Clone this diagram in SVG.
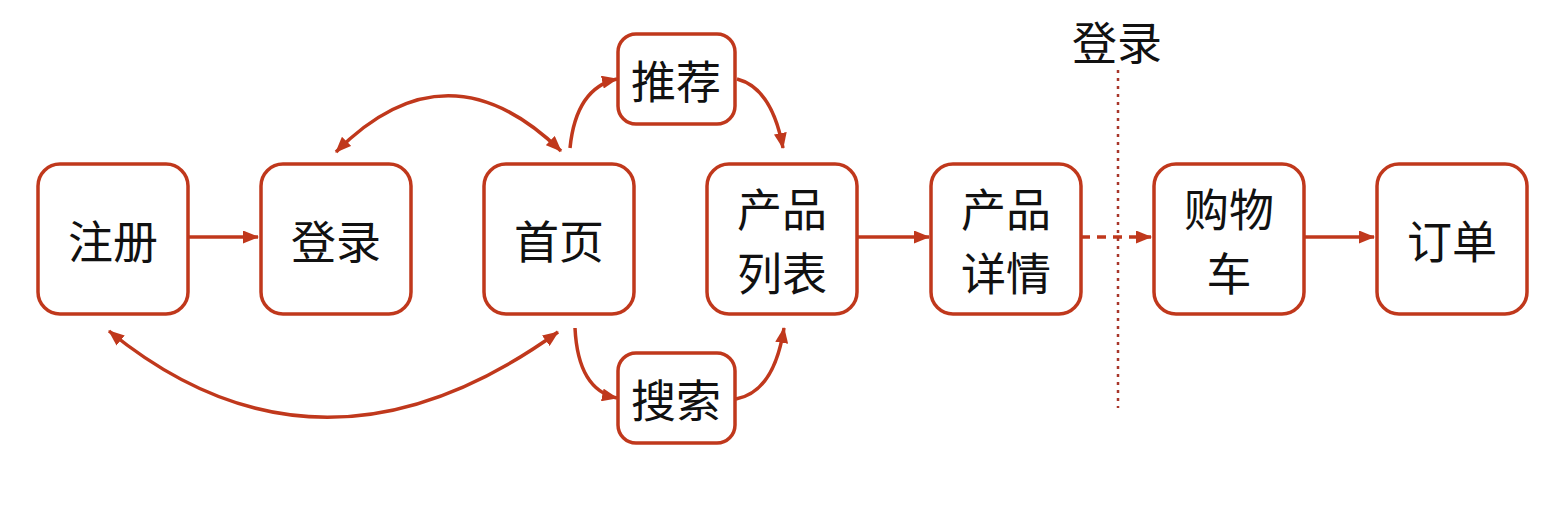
<svg xmlns="http://www.w3.org/2000/svg" width="1559" height="511" viewBox="0 0 1559 511">
<style>
.box{fill:#fff;stroke:#c0381c;stroke-width:3.5}
.t{font-family:"Noto Sans CJK SC","Noto Sans",sans-serif;font-size:45px;fill:#111;text-anchor:middle;dominant-baseline:central}
.c{fill:none;stroke:#c0381c;stroke-width:3.5}
</style>
<defs>
<marker id="ah" markerUnits="userSpaceOnUse" markerWidth="17" markerHeight="13" refX="15" refY="6.5" orient="auto-start-reverse" viewBox="0 0 17 13">
<path d="M0,0 L16,6.5 L0,13 z" fill="#c0381c"/>
</marker>
</defs>
<rect width="1559" height="511" fill="#fff"/>
<g id="connectors">
<path class="c" d="M188,237 L258,237" marker-end="url(#ah)"/>
<path class="c" d="M857,237 L929,237" marker-end="url(#ah)"/>
<path class="c" d="M1081,237 L1151,237" stroke-dasharray="9 7" marker-end="url(#ah)"/>
<path class="c" d="M1305,237 L1374,237" marker-end="url(#ah)"/>
<path class="c" d="M336,152 Q447,40 561,151" marker-start="url(#ah)" marker-end="url(#ah)"/>
<path class="c" d="M109,331 Q320,503 558,332" marker-start="url(#ah)" marker-end="url(#ah)"/>
<path class="c" d="M570,148 Q576,88 617,79" marker-end="url(#ah)"/>
<path class="c" d="M737,79 Q772,88 783,148" marker-end="url(#ah)"/>
<path class="c" d="M575,328 Q578,390 617,398" marker-end="url(#ah)"/>
<path class="c" d="M736,399 Q774,392 784,328" marker-end="url(#ah)"/>
<line x1="1118" y1="70" x2="1118" y2="408" stroke="#a8362a" stroke-width="2.5" stroke-dasharray="3 5"/>
</g>
<g id="n-zhuce"><rect class="box" x="38" y="164" width="150" height="150" rx="22"/><text class="t" x="113" y="239">注册</text></g>
<g id="n-denglu"><rect class="box" x="261" y="164" width="150" height="150" rx="22"/><text class="t" x="336" y="239">登录</text></g>
<g id="n-shouye"><rect class="box" x="484" y="164" width="150" height="150" rx="22"/><text class="t" x="559" y="239">首页</text></g>
<g id="n-tuijian"><rect class="box" x="618" y="34" width="117" height="90" rx="18"/><text class="t" x="676" y="79">推荐</text></g>
<g id="n-sousuo"><rect class="box" x="618" y="353" width="117" height="90" rx="18"/><text class="t" x="676" y="398">搜索</text></g>
<g id="n-liebiao"><rect class="box" x="707" y="164" width="150" height="150" rx="22"/><text class="t" x="782" y="207">产品</text><text class="t" x="782" y="271">列表</text></g>
<g id="n-xiangqing"><rect class="box" x="931" y="164" width="150" height="150" rx="22"/><text class="t" x="1006" y="207">产品</text><text class="t" x="1006" y="271">详情</text></g>
<g id="n-gouwuche"><rect class="box" x="1154" y="164" width="150" height="150" rx="22"/><text class="t" x="1229" y="207">购物</text><text class="t" x="1229" y="271">车</text></g>
<g id="n-dingdan"><rect class="box" x="1377" y="164" width="150" height="150" rx="22"/><text class="t" x="1452" y="239">订单</text></g>
<g id="label-login"><text class="t" x="1117" y="40">登录</text></g>
</svg>
